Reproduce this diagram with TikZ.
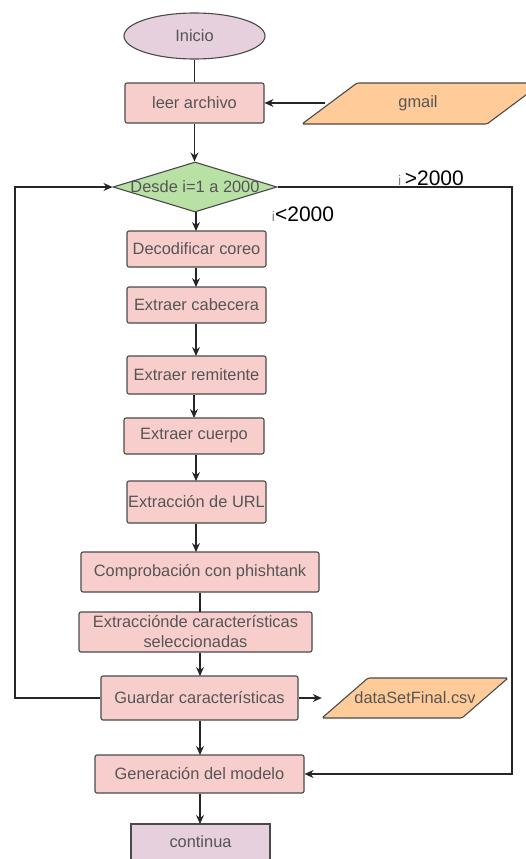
\documentclass[tikz,border=0pt]{standalone}
\usepackage{fontspec}
\setmainfont{Liberation Sans}
\usetikzlibrary{arrows.meta,shapes.geometric}
\definecolor{boxfill}{HTML}{F8CECC}
\definecolor{boxline}{HTML}{4A4A4A}
\definecolor{startfill}{HTML}{E6D0DE}
\definecolor{decfill}{HTML}{B9E0A5}
\definecolor{iofill}{HTML}{FFCC99}
\definecolor{txt}{HTML}{555555}
\begin{document}
\begin{tikzpicture}[x=1pt,y=-1pt,
  base/.style={draw=boxline, line width=1.1pt, text=txt, font=\fontsize{16.4}{20}\selectfont, inner sep=0pt, align=center},
  proc/.style={base, fill=boxfill, rectangle, rounded corners=2pt},
  term/.style={base, fill=startfill, ellipse},
  dec/.style={base, fill=decfill, diamond},
  iotext/.style={text=txt, font=\fontsize{16.4}{20}\selectfont, inner sep=0pt, rectangle},
  iobox/.style={draw=boxline, line width=1.1pt, fill=iofill, rounded corners=1.5pt},
  link/.style={draw=black!85, line width=1.1pt},
  arr/.style={link, -{Stealth[length=9pt,width=8pt]}},
  cond/.style={text=black, font=\fontsize{21}{24}\selectfont, inner sep=1pt}
]
\useasboundingbox (0,0) rectangle (526,859);

% input/output shapes
\draw[iobox] (302,124) -- (357,83) -- (542,83) -- (487,124) -- cycle;
\draw[iobox] (322,718) -- (368,678) -- (508,678) -- (462,718) -- cycle;

\node[term, minimum width=141, minimum height=46] (inicio) at (194.5,36) {Inicio};
\node[proc, minimum width=139, minimum height=40] (leer) at (194.5,103) {leer archivo};
\node[iotext, minimum width=186, minimum height=30] (gmail) at (418,103) {gmail};
\node[dec, minimum width=164, minimum height=50,
      label={[text=txt, font=\fontsize{16.4}{20}\selectfont]center:Desde i=1 a 2000}] (loop) at (195,187) {};
\node[proc, minimum width=139, minimum height=36] (deco) at (196.5,249) {Decodificar coreo};
\node[proc, minimum width=139, minimum height=36] (cab) at (196.5,305) {Extraer cabecera};
\node[proc, minimum width=139, minimum height=38] (rem) at (196.5,375) {Extraer remitente};
\node[proc, minimum width=140, minimum height=36] (cue) at (194,436) {Extraer cuerpo};
\node[proc, minimum width=139, minimum height=42] (url) at (196.5,502) {Extracción de URL};
\node[proc, minimum width=238, minimum height=40] (comp) at (200,572) {Comprobación con phishtank};
\node[proc, minimum width=233, minimum height=40] (extr) at (195.5,632) {Extracciónde características\\seleccionadas};
\node[proc, minimum width=197, minimum height=44] (guard) at (199.5,698) {Guardar características};
\node[iotext, minimum width=186, minimum height=30] (data) at (415,698) {dataSetFinal.csv};
\node[proc, minimum width=209, minimum height=38] (gen) at (199.5,774) {Generación del modelo};
\node[base, fill=startfill, rectangle, minimum width=139, minimum height=36] (cont) at (200.5,842) {continua};

\coordinate (lx) at (15,0);
\coordinate (rx) at (512,0);

% main flow
\draw[link] (inicio.south) -- (inicio.south |- leer.north);
\draw[arr] (gmail.west) -- (leer.east);
\draw[arr] (leer.south) -- (leer.south |- loop.north);
\draw[arr] (196,212) -- (196,231);
\draw[arr] (deco.south -| 196,0) -- (196,287);
\draw[arr] (cab.south -| 196,0) -- (196,356);
\draw[arr] (rem.south -| 194,0) -- (194,418);
\draw[arr] (cue.south -| 196,0) -- (196,481);
\draw[arr] (url.south -| 196,0) -- (196,552);
\draw[link] (comp.south -| 200,0) -- (200,612);
\draw[arr] (extr.south -| 200,0) -- (200,676);
\draw[arr] (guard.south -| 200,0) -- (200,755);
\draw[arr] (gen.south -| 200,0) -- (200,824);
\draw[arr] (guard.east) -- (data.west);

% loops
\draw[arr] (guard.west) -- (guard.west -| lx) |- (loop.west);
\draw[arr] (loop.east) -- (loop.east -| rx) |- (gen.east);

% conditions
\node[cond, fill=white] (gt) at (431,178) {{\color{gray}\fontsize{14}{15}\selectfont i}\,>2000};
\node[cond] (lt) at (303,214) {{\color{gray}\fontsize{14}{15}\selectfont i}<2000};
\end{tikzpicture}
\end{document}
